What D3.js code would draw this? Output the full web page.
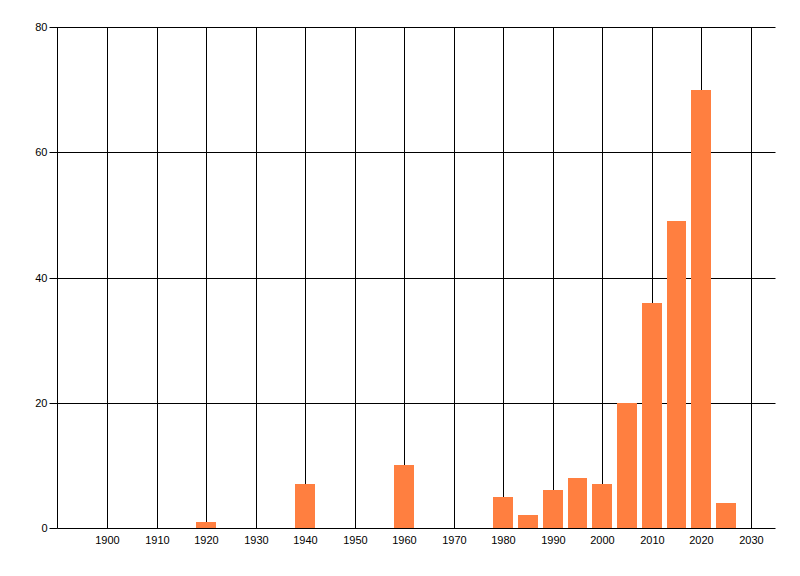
<!DOCTYPE html>
<html>
<head>
<meta charset="utf-8">
<script src="https://cdn.jsdelivr.net/npm/d3@7"></script>
<style>
html,body{margin:0;padding:0;background:#fff;}
svg{display:block;}
text{font-family:"Liberation Sans",Arial,sans-serif;font-size:11px;fill:#000;}
</style>
</head>
<body>
<svg id="chart" width="800" height="576"></svg>
<script>
const years = [1920, 1940, 1960, 1980, 1985, 1990, 1995, 2000, 2005, 2010, 2015, 2020, 2025];
const counts = [1, 7, 10, 5, 2, 6, 8, 7, 20, 36, 49, 70, 4];
const xTicks = [1900, 1910, 1920, 1930, 1940, 1950, 1960, 1970, 1980, 1990, 2000, 2010, 2020, 2030];
const yTicks = [0, 20, 40, 60, 80];

(function () {
const svg = d3.select("#chart");
const mLeft = 57.5, mRight = 775.5, mTop = 27, mBottom = 528;
const x = d3.scaleLinear().domain([1890, 2035]).range([mLeft, mRight]);
const y = d3.scaleLinear().domain([0, 80]).range([mBottom, mTop]);
const barYears = 4;

// vertical gridlines
svg.append("g").selectAll("line").data(xTicks).join("line")
  .attr("x1", d => Math.round(x(d)) + 0.5).attr("x2", d => Math.round(x(d)) + 0.5)
  .attr("y1", mTop).attr("y2", mBottom)
  .attr("stroke", "#000").attr("stroke-width", 1);
// horizontal gridlines
svg.append("g").selectAll("line").data(yTicks.filter(d => d > 0)).join("line")
  .attr("x1", mLeft).attr("x2", mRight)
  .attr("y1", d => Math.round(y(d)) + 0.5).attr("y2", d => Math.round(y(d)) + 0.5)
  .attr("stroke", "#000").attr("stroke-width", 1);

// bars
svg.append("g").selectAll("rect").data(years.map((yr, i) => ({yr, v: counts[i]}))).join("rect")
  .attr("x", d => Math.round(x(d.yr - barYears / 2)))
  .attr("width", d => Math.round(x(d.yr + barYears / 2)) - Math.round(x(d.yr - barYears / 2)))
  .attr("y", d => Math.round(y(d.v)))
  .attr("height", d => Math.round(y(0)) - Math.round(y(d.v)))
  .attr("fill", "#FF7F40");

// axes lines
svg.append("line").attr("x1", mLeft).attr("x2", mLeft).attr("y1", mTop).attr("y2", mBottom + 0.5)
  .attr("stroke", "#000");
svg.append("line").attr("x1", mLeft).attr("x2", mRight).attr("y1", Math.round(y(0)) + 0.5).attr("y2", Math.round(y(0)) + 0.5)
  .attr("stroke", "#000");

// y ticks and labels
const yg = svg.append("g").selectAll("g").data(yTicks).join("g")
  .attr("transform", d => `translate(0,${Math.round(y(d)) + 0.5})`);
yg.append("line").attr("x1", mLeft - 8).attr("x2", mLeft).attr("stroke", "#000");
yg.append("text").attr("x", mLeft - 10).attr("dy", "0.35em").attr("text-anchor", "end").text(d => d);

// x labels
svg.append("g").selectAll("text").data(xTicks).join("text")
  .attr("x", d => Math.round(x(d)) + 0.5).attr("y", 544)
  .attr("text-anchor", "middle").text(d => d);
})();
</script>
</body>
</html>
